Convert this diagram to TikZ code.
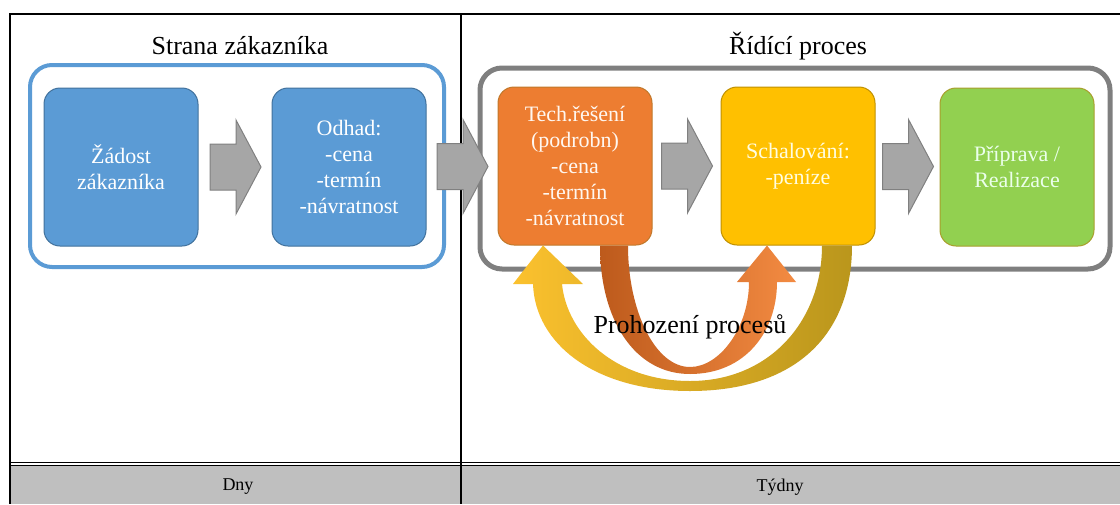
\documentclass[tikz,border=0pt]{standalone}
\usepackage{fontspec}
\setmainfont{Liberation Serif}
\usetikzlibrary{calc}
\definecolor{custblue}{HTML}{5B9BD5}
\definecolor{custbluedk}{HTML}{41719C}
\definecolor{techorange}{HTML}{ED7D31}
\definecolor{techorangedk}{HTML}{C0782A}
\definecolor{schalyellow}{HTML}{FFC000}
\definecolor{schalyellowdk}{HTML}{BF9000}
\definecolor{priprgreen}{HTML}{92D050}
\definecolor{priprgreendk}{HTML}{A89E2C}
\definecolor{frgray}{HTML}{7F7F7F}
\definecolor{arrfill}{HTML}{A6A6A6}
\definecolor{arrdraw}{HTML}{808080}
\definecolor{bandgray}{HTML}{BFBFBF}
\definecolor{swapylwL}{HTML}{FBC12E}
\definecolor{swapylwR}{HTML}{BA961C}
\definecolor{swaporgL}{HTML}{BD5A1C}
\definecolor{swaporgR}{HTML}{F38B42}

\begin{document}
\begin{tikzpicture}[x=1pt,y=-1pt,
  box/.style={draw,line width=1pt,rounded corners=16pt,minimum width=154pt,minimum height=158pt,
    align=center,font=\fontsize{22}{26}\selectfont},
  zonetitle/.style={font=\fontsize{26}{30}\selectfont},
  foot/.style={font=\fontsize{18}{20}\selectfont},
  blockarrow/.pic={\draw[fill=arrfill,draw=arrdraw,line width=1pt]
    (-25,-23) -- (1,-23) -- (1,-47) -- (26,0) -- (1,47) -- (1,23) -- (-25,23) -- cycle;}]
 \useasboundingbox (0,0) rectangle (1120,504);

 \fill[bandgray] (10,465) rectangle (1120,504);
 \draw[line width=1pt] (10,462) -- (1120,462);
 \draw[line width=1pt] (10,465.5) -- (1120,465.5);
 \draw[line width=2.5pt] (1120,14) -- (10,14) -- (10,504);
 \draw[line width=1.2pt] (461,14) -- (461,504);

 \node[zonetitle]   (tcust)  at (240,46)   {Strana zákazníka};
 \node[zonetitle]   (tproc)  at (798,46)   {Řídící proces};
 \node[foot]        (dny)    at (238,487)  {Dny};
 \node[foot]        (tydny)  at (780,487)  {Týdny};

 \draw[custblue,line width=4pt,rounded corners=22pt] (30,65) rectangle (444,267);
 \draw[frgray,line width=5pt,rounded corners=22pt]   (480,68) rectangle (1110,269);

 \node[box,fill=custblue,draw=custbluedk,text=white]           (zadost) at (121,167)  {Žádost\\zákazníka};
 \node[box,fill=custblue,draw=custbluedk,text=white]           (odhad)  at (349,167)  {Odhad:\\-cena\\-termín\\-návratnost};
 \node[box,fill=techorange,draw=techorangedk,text=white!94!orange] (tech) at (575,166) {Tech.řešení\\(podrobn)\\-cena\\-termín\\-návratnost};
 \node[box,fill=schalyellow,draw=schalyellowdk,text=yellow!12] (schal)  at (798,166)  {Schalování:\\-peníze};
 \node[box,fill=priprgreen,draw=priprgreendk,text=white!92!green] (pripr) at (1017,167) {Příprava /\\Realizace};

 \pic at ($(zadost.east)!0.5!(odhad.west)$) {blockarrow};
 \pic at ($(odhad.east)!0.5!(tech.west)$)   {blockarrow};
 \pic at ($(tech.east)!0.5!(schal.west)$)   {blockarrow};
 \pic at ($(schal.east)!0.5!(pripr.west)$)  {blockarrow};

 \shade[left color=swapylwL,right color=swapylwR]
   ([xshift=54pt]schal.south) .. controls +(0,90) and +(105,0) .. (690,391)
   .. controls +(-95,0) and +(2,60) .. (533,284)
   -- (513,284) -- ([xshift=-32pt]tech.south) -- (583,284) -- (562,284)
   .. controls +(5,50) and +(-75,0) .. (690,381)
   .. controls +(80,0) and +(0,75) .. ([xshift=24pt]schal.south) -- cycle;
 \shade[left color=swaporgL,right color=swaporgR]
   ([xshift=25pt]tech.south) .. controls +(0,75) and +(-55,0) .. (690,374)
   .. controls +(55,0) and +(0,50) .. (777,282)
   -- (796,282) -- ([xshift=-31pt]schal.south) -- (737,282) -- (749,282)
   .. controls +(0,45) and +(30,0) .. (690,367)
   .. controls +(-35,0) and +(0,65) .. ([xshift=53pt]tech.south) -- cycle;

 \node[zonetitle]   (swap)   at (690,327)  {Prohození procesů};
\end{tikzpicture}
\end{document}
